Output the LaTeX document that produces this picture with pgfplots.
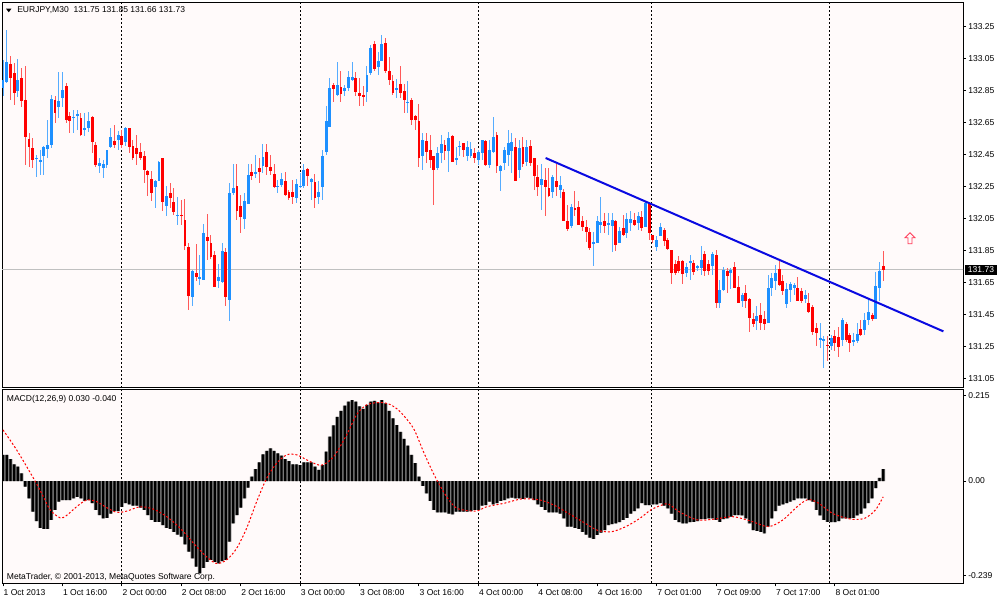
\documentclass[border=0pt]{standalone}
\usepackage{pgfplots}
\pgfplotsset{compat=1.18}
\usepackage{pgfplotstable}
\usepackage{fontspec}
\setmainfont{Liberation Sans}
\definecolor{upc}{RGB}{30,144,255}
\definecolor{dnc}{RGB}{255,0,0}
\definecolor{bgc}{RGB}{255,250,250}
\definecolor{tline}{RGB}{10,10,225}
\definecolor{bidc}{RGB}{192,192,192}
\definecolor{arrc}{RGB}{255,60,90}
\definecolor{histg}{RGB}{120,120,120}

\pgfplotstableread{
x o h l c
0 132.865 133.042 132.813 132.917
1 132.907 133.225 132.896 133.032
4 132.844 133.046 132.813 132.917
9 132.421 132.448 132.313 132.430
10 132.407 132.479 132.323 132.417
11 132.438 132.500 132.323 132.500
12 132.484 132.667 132.427 132.507
13 132.511 132.819 132.490 132.796
15 132.750 132.969 132.677 132.782
16 132.802 132.969 132.750 132.854
19 132.677 132.729 132.584 132.688
20 132.694 132.729 132.604 132.700
22 132.604 132.709 132.563 132.615
23 132.615 132.719 132.594 132.657
26 132.375 132.427 132.334 132.396
27 132.365 132.417 132.302 132.392
28 132.382 132.479 132.365 132.479
29 132.500 132.619 132.490 132.563
31 132.542 132.594 132.479 132.571
33 132.525 132.619 132.500 132.615
41 132.246 132.292 132.115 132.282
42 132.282 132.407 132.282 132.400
44 132.125 132.250 132.067 132.188
47 132.067 132.188 132.011 132.073
51 131.559 131.725 131.500 131.725
53 131.677 131.823 131.636 131.682
54 131.667 132.017 131.667 131.959
58 131.657 131.767 131.615 131.684
59 131.657 131.896 131.646 131.850
61 131.542 132.271 131.407 132.209
62 132.213 132.392 132.198 132.240
65 132.046 132.209 131.984 132.157
66 132.142 132.390 132.142 132.323
68 132.327 132.448 132.302 132.338
70 132.375 132.515 132.334 132.434
74 132.246 132.292 132.209 132.254
75 132.261 132.334 132.250 132.296
79 132.177 132.296 132.146 132.267
80 132.246 132.334 132.240 132.254
81 132.250 132.392 132.240 132.350
83 132.275 132.302 132.167 132.296
85 132.184 132.282 132.142 132.213
86 132.246 132.479 132.167 132.438
87 132.463 132.750 132.448 132.657
88 132.625 132.927 132.625 132.865
90 132.819 133.027 132.819 132.886
92 132.844 132.886 132.813 132.865
93 132.865 132.969 132.844 132.934
94 132.917 133.027 132.907 132.934
98 132.844 133.000 132.775 132.948
99 132.959 133.136 132.948 133.115
101 133.000 133.088 132.948 133.032
102 133.036 133.198 133.032 133.140
106 132.859 132.921 132.802 132.865
109 132.775 132.907 132.709 132.782
113 132.442 132.588 132.355 132.542
117 132.365 132.500 132.355 132.459
118 132.459 132.573 132.396 132.517
120 132.469 132.594 132.344 132.552
122 132.417 132.500 132.386 132.430
123 132.496 132.532 132.438 132.504
125 132.438 132.532 132.407 132.500
126 132.442 132.532 132.427 132.486
128 132.417 132.479 132.386 132.463
129 132.459 132.542 132.417 132.538
131 132.386 132.542 132.365 132.479
132 132.463 132.684 132.459 132.559
134 132.344 132.386 132.225 132.379
135 132.396 132.500 132.354 132.479
136 132.448 132.604 132.375 132.521
137 132.469 132.584 132.334 132.525
139 132.354 132.542 132.302 132.490
141 132.407 132.542 132.375 132.500
145 132.261 132.392 132.104 132.296
148 132.213 132.323 132.177 132.309
150 132.229 132.313 132.177 132.261
153 132.000 132.142 131.990 132.121
159 131.896 131.969 131.754 131.900
160 131.896 132.063 131.900 132.032
161 132.011 132.184 131.959 132.032
163 132.017 132.084 131.948 132.021
164 132.004 132.084 131.844 132.038
166 131.896 131.996 131.896 131.969
168 131.959 132.084 131.927 132.046
169 132.021 132.094 131.969 132.046
171 132.025 132.088 131.980 132.067
173 132.000 132.157 132.000 132.146
176 131.875 131.938 131.844 131.917
177 131.942 132.021 131.938 132.000
184 131.713 131.775 131.688 131.750
185 131.771 131.823 131.667 131.782
187 131.746 131.761 131.719 131.754
188 131.740 131.880 131.698 131.792
191 131.754 131.838 131.698 131.830
193 131.521 131.667 131.490 131.604
194 131.604 131.746 131.594 131.730
196 131.709 131.740 131.609 131.730
199 131.532 131.584 131.500 131.573
203 131.407 131.500 131.355 131.442
206 131.396 131.698 131.396 131.615
207 131.615 131.709 131.563 131.677
208 131.657 131.761 131.605 131.709
211 131.517 131.646 131.490 131.609
212 131.604 131.657 131.532 131.642
213 131.615 131.646 131.573 131.636
216 131.546 131.600 131.521 131.573
220 131.296 131.396 131.240 131.302
221 131.288 131.313 131.115 131.296
223 131.254 131.323 131.230 131.302
226 131.292 131.427 131.250 131.417
229 131.280 131.334 131.254 131.288
230 131.282 131.396 131.271 131.330
232 131.355 131.459 131.323 131.417
233 131.417 131.552 131.386 131.463
235 131.421 131.719 131.421 131.630
236 131.615 131.775 131.532 131.719
}\upcandles

\pgfplotstableread{
x o h l c
2 133.017 133.067 132.792 132.927
3 132.959 133.021 132.761 132.834
5 132.927 132.990 132.750 132.782
6 132.792 133.005 132.386 132.559
7 132.546 132.584 132.375 132.496
8 132.490 132.552 132.365 132.417
14 132.792 132.813 132.646 132.709
17 132.879 132.896 132.646 132.667
18 132.688 132.719 132.584 132.657
21 132.682 132.709 132.567 132.573
24 132.682 132.688 132.459 132.525
25 132.507 132.532 132.375 132.386
30 132.532 132.636 132.490 132.511
32 132.563 132.604 132.490 132.511
34 132.615 132.615 132.459 132.500
35 132.500 132.542 132.417 132.427
36 132.490 132.573 132.386 132.455
37 132.465 132.521 132.417 132.427
38 132.438 132.469 132.271 132.355
39 132.348 132.355 132.188 132.319
40 132.298 132.344 132.157 132.213
43 132.427 132.427 132.094 132.157
45 132.209 132.271 132.115 132.177
46 132.157 132.240 132.073 132.094
48 132.075 132.167 132.011 132.069
49 132.038 132.171 131.854 131.875
50 131.871 131.896 131.479 131.567
52 131.709 131.890 131.657 131.684
55 131.938 132.077 131.792 131.913
56 131.896 131.948 131.796 131.809
57 131.823 131.844 131.625 131.625
60 131.838 131.865 131.504 131.557
63 132.257 132.392 132.042 132.098
64 132.129 132.198 131.959 132.058
67 132.340 132.390 132.292 132.317
69 132.365 132.427 132.271 132.344
71 132.465 132.517 132.323 132.375
72 132.369 132.448 132.323 132.344
73 132.330 132.390 132.240 132.250
76 132.286 132.344 132.188 132.198
77 132.213 132.230 132.167 132.177
78 132.213 132.292 132.142 132.184
82 132.359 132.365 132.250 132.313
84 132.282 132.330 132.115 132.177
89 132.886 132.896 132.775 132.859
91 132.875 132.973 132.775 132.829
95 132.927 132.969 132.813 132.844
96 132.834 132.927 132.750 132.813
97 132.823 132.879 132.750 132.813
100 133.140 133.157 132.969 132.984
103 133.146 133.177 132.959 132.973
104 132.973 133.057 132.886 132.913
105 132.907 132.948 132.823 132.834
107 132.892 133.000 132.802 132.834
108 132.850 132.890 132.709 132.792
110 132.792 132.802 132.636 132.667
111 132.688 132.698 132.604 132.667
112 132.657 132.767 132.375 132.427
114 132.532 132.588 132.396 132.463
115 132.479 132.573 132.365 132.417
116 132.438 132.438 132.136 132.355
119 132.507 132.542 132.417 132.475
121 132.569 132.573 132.400 132.402
124 132.521 132.521 132.438 132.479
127 132.459 132.490 132.396 132.425
130 132.532 132.542 132.375 132.386
133 132.573 132.594 132.334 132.375
138 132.500 132.552 132.282 132.282
140 132.500 132.559 132.375 132.392
142 132.500 132.542 132.380 132.396
143 132.427 132.427 132.229 132.313
144 132.309 132.386 132.188 132.246
146 132.288 132.365 132.063 132.246
147 132.240 132.365 132.188 132.188
149 132.286 132.392 132.188 132.246
151 132.215 132.234 132.032 132.032
152 132.032 132.136 131.973 131.984
154 132.119 132.225 132.063 132.104
155 132.121 132.157 132.011 132.011
156 132.032 132.067 131.969 131.996
157 131.996 132.042 131.907 131.963
158 131.965 131.990 131.854 131.865
162 132.032 132.084 131.959 132.004
165 132.032 132.042 131.844 131.886
167 131.990 132.073 131.938 131.948
170 132.038 132.084 132.000 132.011
172 132.059 132.094 131.969 131.990
174 132.146 132.150 131.917 131.959
175 131.948 131.948 131.896 131.917
178 131.980 131.990 131.875 131.907
179 131.917 131.927 131.854 131.859
180 131.850 131.854 131.642 131.709
181 131.767 131.792 131.698 131.709
182 131.782 131.813 131.709 131.719
183 131.782 131.792 131.642 131.704
186 131.771 131.792 131.698 131.713
189 131.830 131.844 131.688 131.725
190 131.767 131.792 131.698 131.719
192 131.823 131.854 131.490 131.521
195 131.719 131.740 131.584 131.688
197 131.746 131.782 131.615 131.615
198 131.621 131.688 131.521 131.525
200 131.584 131.636 131.490 131.532
201 131.546 131.552 131.344 131.427
202 131.421 131.459 131.375 131.392
204 131.448 131.521 131.355 131.396
205 131.421 131.469 131.355 131.392
209 131.734 131.792 131.625 131.636
210 131.657 131.698 131.573 131.594
214 131.615 131.684 131.532 131.532
215 131.594 131.615 131.525 131.532
217 131.521 131.584 131.459 131.463
218 131.500 131.511 131.323 131.344
219 131.365 131.396 131.254 131.334
222 131.261 131.313 131.157 131.254
224 131.313 131.355 131.219 131.275
225 131.313 131.375 131.188 131.250
227 131.392 131.407 131.282 131.292
228 131.323 131.334 131.213 131.271
231 131.359 131.417 131.313 131.323
234 131.448 131.459 131.407 131.421
237 131.750 131.850 131.660 131.730
}\dncandles

\pgfplotstableread{
v
0.066
0.066
0.055
0.042
0.036
0.019
-0.014
-0.044
-0.077
-0.101
-0.118
-0.121
-0.121
-0.098
-0.073
-0.052
-0.048
-0.048
-0.048
-0.044
-0.040
-0.044
-0.050
-0.048
-0.056
-0.073
-0.086
-0.094
-0.093
-0.082
-0.076
-0.076
-0.065
-0.056
-0.059
-0.062
-0.062
-0.067
-0.073
-0.086
-0.098
-0.103
-0.103
-0.111
-0.118
-0.121
-0.128
-0.135
-0.140
-0.160
-0.178
-0.195
-0.216
-0.233
-0.219
-0.204
-0.199
-0.204
-0.208
-0.202
-0.199
-0.153
-0.107
-0.086
-0.067
-0.044
-0.017
0.011
0.030
0.047
0.067
0.076
0.082
0.076
0.070
0.064
0.055
0.050
0.042
0.042
0.040
0.047
0.047
0.047
0.036
0.028
0.040
0.074
0.112
0.140
0.162
0.177
0.190
0.200
0.204
0.200
0.188
0.182
0.192
0.200
0.202
0.198
0.204
0.196
0.177
0.158
0.141
0.124
0.106
0.089
0.066
0.045
0.011
-0.012
-0.031
-0.050
-0.073
-0.079
-0.079
-0.079
-0.082
-0.084
-0.077
-0.077
-0.077
-0.077
-0.076
-0.073
-0.073
-0.062
-0.061
-0.052
-0.059
-0.056
-0.050
-0.048
-0.044
-0.042
-0.044
-0.044
-0.045
-0.042
-0.044
-0.048
-0.059
-0.065
-0.073
-0.079
-0.079
-0.079
-0.082
-0.094
-0.115
-0.115
-0.118
-0.121
-0.128
-0.135
-0.143
-0.146
-0.136
-0.130
-0.124
-0.111
-0.109
-0.107
-0.104
-0.098
-0.093
-0.082
-0.076
-0.069
-0.056
-0.061
-0.061
-0.059
-0.059
-0.056
-0.062
-0.069
-0.082
-0.098
-0.104
-0.107
-0.107
-0.104
-0.103
-0.101
-0.096
-0.096
-0.094
-0.094
-0.098
-0.103
-0.096
-0.094
-0.090
-0.086
-0.086
-0.087
-0.094
-0.107
-0.124
-0.126
-0.128
-0.132
-0.115
-0.094
-0.076
-0.062
-0.059
-0.056
-0.052
-0.048
-0.044
-0.044
-0.044
-0.048
-0.052
-0.073
-0.087
-0.098
-0.103
-0.104
-0.104
-0.101
-0.094
-0.094
-0.094
-0.093
-0.087
-0.082
-0.069
-0.056
-0.044
-0.018
0.008
0.030
}\macd

\newcommand{\tf}{\fontsize{6.4pt}{7.5pt}\selectfont}

\begin{document}
\begin{tikzpicture}[x=1pt,y=1pt]
\fill[white] (0,0) rectangle (750,450);
\path[use as bounding box] (0,0) rectangle (750,450);
\pgfplotsset{
  mtbase/.style={
    scale only axis, anchor=south west,
    width=720.75pt,
    xmin=-0.27, xmax=258.48,
    axis background/.style={fill=bgc},
    axis line style={black, line width=0.75pt},
    tick style={black, line width=0.75pt},
    tick align=outside,
    major tick length=2.25pt,
    ytick pos=right, yticklabel pos=right,
    tick label style={font=\tf},
    yticklabel style={anchor=west, inner sep=0pt, xshift=1.5pt},
    extra x ticks={32,80,128,174.7,222.4},
    extra x tick labels={},
    extra x tick style={grid=major, major tick length=0pt,
      major grid style={black, line width=0.75pt, dash pattern=on 1.5pt off 1.5pt}},
    clip=true,
  },
  wick/.style={draw=none, mark=none, forget plot,
    error bars/.cd, y dir=both, y explicit, error mark=none,
    error bar style={draw=#1, line width=0.75pt}},
  body/.style={draw=none, mark=none, forget plot,
    error bars/.cd, y dir=both, y explicit, error mark=none,
    error bar style={draw=#1, line width=2.2pt}},
}
% ---------------- price panel ----------------
\begin{axis}[mtbase,
  at={(1.5pt,159.225pt)}, height=288.75pt,
  ymin=130.992, ymax=133.398,
  xtick=\empty,
  ytick={131.05,131.25,131.45,131.65,131.85,132.05,132.25,132.45,132.65,132.85,133.05,133.25},
  yticklabels={131.05,131.25,131.45,131.65,131.85,132.05,132.25,132.45,132.65,132.85,133.05,133.25},
]
\addplot[bidc, line width=0.75pt, forget plot] coordinates {(-1,131.73) (260,131.73)};
\addplot[wick=upc!75!white] table[x=x, y expr={(\thisrow{h}+\thisrow{l})/2}, y error expr={(\thisrow{h}-\thisrow{l})/2}]{\upcandles};
\addplot[wick=dnc!65!white] table[x=x, y expr={(\thisrow{h}+\thisrow{l})/2}, y error expr={(\thisrow{h}-\thisrow{l})/2}]{\dncandles};
\addplot[body=upc] table[x=x, y expr={(\thisrow{o}+\thisrow{c})/2}, y error expr={max(abs(\thisrow{c}-\thisrow{o})/2,0.0032)}]{\upcandles};
\addplot[body=dnc] table[x=x, y expr={(\thisrow{o}+\thisrow{c})/2}, y error expr={max(abs(\thisrow{c}-\thisrow{o})/2,0.0032)}]{\dncandles};
\addplot[tline, line width=1.5pt] coordinates {(146.1,132.4275) (253.2,131.344)};
\coordinate (arr) at (axis cs:244.2,131.926);
\end{axis}
% ---------------- MACD panel ----------------
\begin{axis}[mtbase,
  at={(1.5pt,12.525pt)}, height=145.35pt,
  ymin=-0.258, ymax=0.2308,
  xtick={0,16,32,48,64,80,96,112,128,144,160,176,192,208,224},
  xticklabels={1 Oct 2013, 1 Oct 16:00, 2 Oct 00:00, 2 Oct 08:00, 2 Oct 16:00, 3 Oct 00:00, 3 Oct 08:00, 3 Oct 16:00, 4 Oct 00:00, 4 Oct 08:00, 4 Oct 16:00, 7 Oct 01:00, 7 Oct 09:00, 7 Oct 17:00, 8 Oct 01:00},
  xtick pos=bottom,
  xticklabel style={anchor=north west, inner sep=0pt, yshift=-2pt, xshift=0.3pt},
  ytick={-0.239,0,0.215},
  yticklabels={-0.239,0.00,0.215},
]
\addplot[ybar, bar width=1, bar shift=0pt, fill=histg, draw=none, forget plot] table[x expr=\coordindex, y=v]{\macd};
\addplot[ybar, bar width=0.6, bar shift=0pt, fill=black, draw=none, forget plot] table[x expr=\coordindex, y=v]{\macd};
\addplot[red, line width=0.75pt, dash pattern=on 1.5pt off 1.5pt, smooth] coordinates {
(0,0.129) (3.7,0.078) (8.2,0.007) (10.9,-0.040) (12.7,-0.073) (15.4,-0.093) (17.1,-0.087) (19.8,-0.065) (22.5,-0.048) (25.2,-0.052) (27.9,-0.067) (30.6,-0.079) (33.3,-0.076) (36.9,-0.065) (40.5,-0.071) (44.1,-0.090) (47.7,-0.119) (51.3,-0.157) (54.8,-0.191) (57.5,-0.208) (60.2,-0.199) (62.9,-0.170) (65.6,-0.119) (68.3,-0.052) (71,0.007) (73.7,0.045) (76.4,0.066) (79.1,0.066) (82.7,0.049) (85.8,0.040) (89,0.061) (92.5,0.116) (95.2,0.167) (97.9,0.192) (101.5,0.198) (104.2,0.193) (106.9,0.175) (110.5,0.133) (113.2,0.074) (115.9,0.019) (118.6,-0.027) (120.4,-0.052) (122.5,-0.070) (127.3,-0.076) (130.2,-0.065) (135,-0.056) (139.8,-0.045) (144.6,-0.048) (148.4,-0.061) (152.3,-0.082) (156.1,-0.103) (160,-0.124) (163.8,-0.128) (167.7,-0.115) (171.5,-0.094) (174.4,-0.073) (177.3,-0.061) (179.2,-0.058) (182,-0.077) (186.9,-0.098) (191.7,-0.096) (196.5,-0.090) (201.3,-0.101) (206.1,-0.115) (210,-0.098) (213.8,-0.065) (216.7,-0.047) (219.6,-0.056) (223.4,-0.082) (228.2,-0.096) (232,-0.094) (234.9,-0.073) (237,-0.040)};
\end{axis}
% ---------------- annotations ----------------
\fill[black] (4.5,443.5) -- (8.6,443.5) -- (6.55,440.8) -- cycle;
\node[anchor=base west, inner sep=0pt, font=\tf] at (12.75,440.5) {EURJPY,M30\ \ 131.75 131.85 131.66 131.73};
\node[anchor=base west, inner sep=0pt, font=\tf] at (5,148.7) {MACD(12,26,9) 0.030 -0.040};
\node[anchor=base west, inner sep=0pt, font=\tf] at (5,15.5) {MetaTrader, © 2001-2013, MetaQuotes Software Corp.};
\node[fill=black, text=white, inner xsep=2.2pt, inner ysep=1.4pt, font=\tf, anchor=center] at (735.75,247.5) {131.73};
\begin{scope}[shift={(arr)}]
\draw[arrc, line width=0.6pt, line join=miter] (0,4.1) -- (3.75,0.4) -- (1.5,0.4) -- (1.5,-4.1) -- (-1.5,-4.1) -- (-1.5,0.4) -- (-3.75,0.4) -- cycle;
\end{scope}
\end{tikzpicture}
\end{document}
